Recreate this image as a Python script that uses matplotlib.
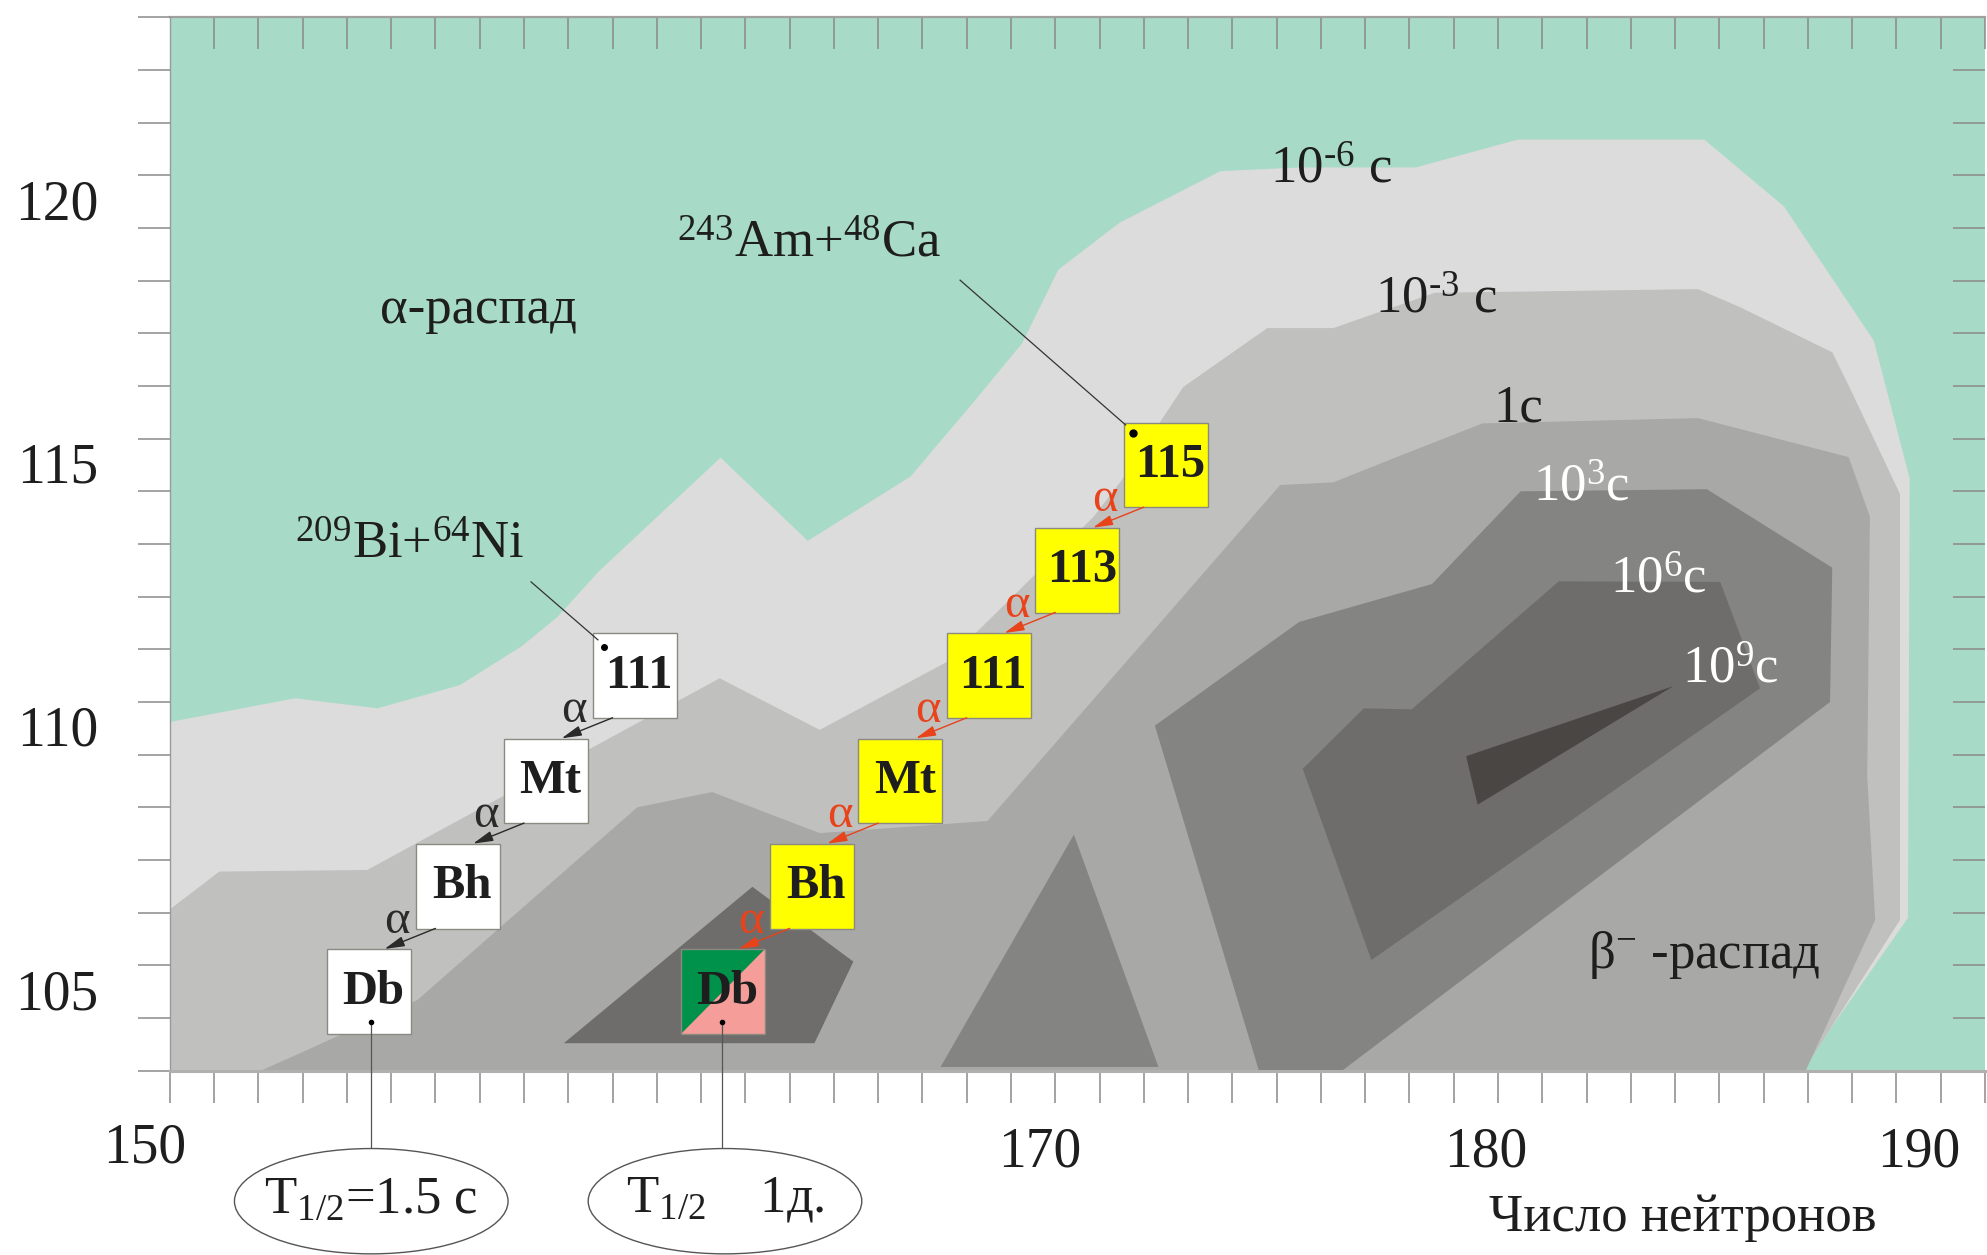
import matplotlib
matplotlib.use("Agg")
import matplotlib.pyplot as plt
from matplotlib.patches import Polygon, Rectangle, Ellipse

plt.rcParams['font.family'] = ['Liberation Serif', 'DejaVu Serif']
plt.rcParams['mathtext.fontset'] = 'custom'
plt.rcParams['mathtext.rm'] = 'Liberation Serif'
plt.rcParams['mathtext.it'] = 'Liberation Serif:italic'
plt.rcParams['mathtext.bf'] = 'Liberation Serif:bold'

# ---------------- data ----------------
# Half-life zones as (neutron number N, proton number Z) outlines
zone_1e_6 = [(150, 110.62), (152.83, 111.07), (154.69, 110.88), (156.55, 111.32),
             (157.95, 112.06), (158.75, 112.61), (159.69, 113.48), (162.44, 115.64),
             (164.41, 114.06), (166.73, 115.28), (168.19, 116.73), (169.25, 117.81),
             (170.07, 119.21), (171.45, 120.1), (173.73, 121.08), (175.51, 121.15),
             (178.14, 121.15), (180.45, 121.68), (184.66, 121.68), (186.46, 120.41),
             (188.49, 117.86), (189.3, 115.24), (189.26, 106.9), (186.85, 104.0),
             (150, 104.0)]
zone_1e_3 = [(150, 107.06), (151.12, 107.78), (154.46, 107.81), (162.42, 111.45),
             (164.68, 110.47), (167.53, 111.75), (170.86, 114.51), (171.5, 115.21),
             (172.89, 116.98), (174.79, 118.1), (176.28, 118.1), (178.57, 118.77),
             (184.52, 118.84), (185.46, 118.5), (187.55, 117.64), (187.92, 117.01),
             (189.08, 114.95), (189.08, 106.86), (186.9, 104.0), (150, 104.0)]
zone_1 = [(152.06, 104.0), (152.94, 104.33), (155.59, 105.34), (160.56, 109.0),
          (162.25, 109.29), (164.68, 108.51), (168.47, 108.74), (175.08, 115.12),
          (176.28, 115.17), (177.77, 115.67), (179.65, 116.29), (184.52, 116.39),
          (187.92, 115.65), (188.4, 114.52), (188.34, 109.58), (188.52, 106.86),
          (186.95, 104.0)]
zone_1e3 = [(172.25, 110.55), (175.51, 112.52), (178.51, 113.24), (180.51, 115.0),
            (184.72, 115.04), (187.55, 113.55), (187.5, 111.0), (176.48, 104.0),
            (174.6, 104.0)]
zone_1e3_b = [(167.41, 104.07), (170.42, 108.48), (172.33, 104.07)]
zone_1e6 = [(175.59, 109.73), (176.97, 110.88), (178.05, 110.86), (181.37, 113.29),
            (185.02, 113.28), (185.92, 111.26), (177.14, 106.1)]
zone_1e6_b = [(158.9, 104.52), (163.16, 107.49), (165.44, 106.07), (164.56, 104.52)]
zone_1e9 = [(179.28, 109.97), (183.96, 111.3), (179.54, 109.05)]

zone_colors = {
    'bg': '#A8DAC8', '1e-6': '#DCDCDC', '1e-3': '#C0C0BF', '1': '#A8A8A7',
    '1e3': '#848483', '1e6': '#6E6D6C', '1e9': '#4A4644',
}

# Decay chains (N, Z) and element labels
chain_ca_N = [173, 171, 169, 167, 165, 163]
chain_ca_Z = [115, 113, 111, 109, 107, 105]
chain_ca_lbl = ['115', '113', '111', 'Mt', 'Bh', 'Db']
chain_ni_N = [161, 159, 157, 155]
chain_ni_Z = [111, 109, 107, 105]
chain_ni_lbl = ['111', 'Mt', 'Bh', 'Db']

x_ticklabels = [150, 170, 180, 190]
y_ticklabels = [105, 110, 115, 120]

zone_labels = [
    (176.23, 121.1, r'10$^{\text{-}6}$ с', '#1e1e1e'),
    (178.6, 118.63, r'10$^{\text{-}3}$ с', '#1e1e1e'),
    (180.46, 116.57, '1с', '#1e1e1e'),
    (181.88, 115.06, '10$^{3}$с', 'white'),
    (183.63, 113.32, '10$^{6}$с', 'white'),
    (185.25, 111.61, '10$^{9}$с', 'white'),
]

# ---------------- figure ----------------
fig = plt.figure(figsize=(19.87, 12.55), dpi=100)
ax = fig.add_axes([0.08546, 0.14693, 0.91353, 0.83921])
ax.set_xlim(150, 191)
ax.set_ylim(104, 124)
ax.set_facecolor(zone_colors['bg'])

for pts, key in [(zone_1e_6, '1e-6'), (zone_1e_3, '1e-3'), (zone_1, '1'),
                 (zone_1e3, '1e3'), (zone_1e3_b, '1e3'), (zone_1e6, '1e6'),
                 (zone_1e6_b, '1e6'), (zone_1e9, '1e9')]:
    ax.add_patch(Polygon(pts, closed=True, facecolor=zone_colors[key],
                         edgecolor='none', zorder=1))

tick_col = '#8a8a8a'
ax.set_xticks(range(150, 192))
ax.set_yticks(range(104, 125))
ax.tick_params(axis='both', direction='out', length=23, width=1.1, color=tick_col,
               labelbottom=False, labelleft=False)
for s in ['top', 'right']:
    ax.spines[s].set_visible(False)
ax.spines['left'].set_color('#9a9a9a')
ax.spines['left'].set_linewidth(1.0)
ax.spines['bottom'].set_color('#b0b0b0')
ax.spines['bottom'].set_linewidth(2.2)

top = ax.secondary_xaxis('top')
top.set_xticks(range(151, 192))
top.tick_params(direction='in', length=23, width=1.1, color=tick_col, labeltop=False)
top.spines['top'].set_color('#a0a0a0')
top.spines['top'].set_linewidth(1.6)
right = ax.secondary_yaxis('right')
right.set_yticks(range(105, 124))
right.tick_params(direction='in', length=23, width=1.1, color=tick_col, labelright=False)
right.spines['right'].set_visible(False)

txt = '#1e1e1e'
# tick labels
x_shift = {150: -0.56, 170: -0.36, 180: -0.27, 190: -0.5}
for v in x_ticklabels:
    ax.text(v + x_shift[v], 102.53 if v == 150 else 102.45, str(v), fontsize=40,
            color=txt, ha='center', va='center', clip_on=False)
for v in y_ticklabels:
    ax.text(148.38, v + 0.43, str(v), fontsize=40, color=txt, ha='right',
            va='center', clip_on=False)
ax.text(184.18, 101.21, 'Число нейтронов', fontsize=38, color=txt,
        ha='center', va='center', clip_on=False)

# zone captions
for x, y, s, c in zone_labels:
    ax.text(x, y, s, fontsize=38, color=c, ha='center', va='center', zorder=3)
ax.text(156.97, 118.45, 'α-распад', fontsize=38, color=txt, ha='center',
        va='center', zorder=3)
ax.text(184.66, 106.2, 'β$^{-}$ -распад', fontsize=38, color=txt, ha='center',
        va='center', zorder=3)

# nuclide boxes
BW, BH = 1.9, 1.61


def box(n, z, label, face):
    cx, cy = n - 0.5, z + 0.5
    x0, y0 = cx - BW / 2, cy - BH / 2
    if face == 'split':
        ax.add_patch(Polygon([(x0, y0), (x0, y0 + BH), (x0 + BW, y0 + BH)],
                             facecolor='#00924A', edgecolor='none', zorder=4))
        ax.add_patch(Polygon([(x0, y0), (x0 + BW, y0), (x0 + BW, y0 + BH)],
                             facecolor='#F59D98', edgecolor='none', zorder=4))
        ax.add_patch(Rectangle((x0, y0), BW, BH, facecolor='none',
                               edgecolor='#8a8a80', lw=1.0, zorder=4))
    else:
        ax.add_patch(Rectangle((x0, y0), BW, BH, facecolor=face,
                               edgecolor='#8a8a80', lw=1.0, zorder=4))
    ax.text(cx + 0.1, cy, label, fontsize=35, fontweight='bold', color=txt,
            ha='center', va='center', zorder=5)
    return x0, y0


red = '#E8431A'
for i, (n, z, lb) in enumerate(zip(chain_ca_N, chain_ca_Z, chain_ca_lbl)):
    box(n, z, lb, 'split' if i == len(chain_ca_N) - 1 else '#FFFF00')
for i, (n, z, lb) in enumerate(zip(chain_ni_N, chain_ni_Z, chain_ni_lbl)):
    box(n, z, lb, 'white')


def alpha_steps(Ns, Zs, col):
    for k in range(len(Ns) - 1):
        n, z = Ns[k], Zs[k]
        ax.annotate('', xy=(n - 2.15, z - 0.69), xytext=(n - 1.0, z - 0.3),
                    arrowprops=dict(arrowstyle='-|>,head_length=0.55,head_width=0.14',
                                    color=col, lw=1.0, shrinkA=0, shrinkB=0,
                                    mutation_scale=22), zorder=6)
        ax.text(n - 1.87, z - 0.15, 'α', fontsize=35, color=col, ha='center',
                va='center', zorder=6)


alpha_steps(chain_ca_N, chain_ca_Z, red)
alpha_steps(chain_ni_N, chain_ni_Z, '#2a2a2a')

# reaction captions with leader lines
ax.text(164.44, 119.7, '$^{243}$Am+$^{48}$Ca', fontsize=38, color=txt,
        ha='center', va='center', zorder=3)
ax.plot([167.85, 171.59], [119.01, 116.26], color='#333333', lw=0.9, zorder=6)
ax.plot([171.76], [116.1], 'o', color='black', ms=5, zorder=7)
ax.text(155.41, 113.97, '$^{209}$Bi+$^{64}$Ni', fontsize=38, color=txt,
        ha='center', va='center', zorder=3)
ax.plot([158.16, 159.67], [113.28, 112.18], color='#333333', lw=0.9, zorder=6)
ax.plot([159.8], [112.05], 'o', color='black', ms=4, zorder=7)

# half-life callouts below the axis
callouts = [(chain_ni_N[-1] - 0.45, 'T$_{1/2}$=1.5 с', 154.55),
            (chain_ca_N[-1] - 0.52, 'T$_{1/2}$    1д.', 162.54)]
for xl, s, xc in callouts:
    ax.plot([xl], [104.93], 'o', color='black', ms=3, zorder=7)
    ax.plot([xl, xl], [104.93, 102.53], color='#555555', lw=0.9, zorder=6,
            clip_on=False)
    ax.add_patch(Ellipse((xc, 101.52), 6.18, 2.0, facecolor='white',
                         edgecolor='#555555', lw=1.0, clip_on=False, zorder=6))
    ax.text(xc, 101.55, s, fontsize=38, color=txt, ha='center', va='center',
            clip_on=False, zorder=7)

fig.savefig('out.png', dpi=100)
